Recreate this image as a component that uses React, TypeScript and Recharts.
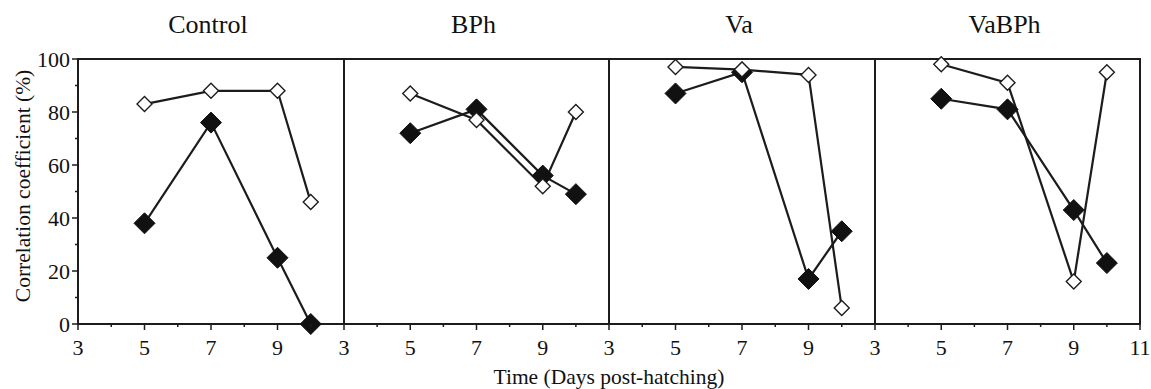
import React from 'react';
import { LineChart, Line, XAxis, YAxis, ReferenceArea } from 'recharts';

const days = [5, 7, 9, 10];
const panelTitles = ['Control', 'BPh', 'Va', 'VaBPh'];
const controlOpen = [83, 88, 88, 46];
const controlFilled = [38, 76, 25, 0];
const bphOpen = [87, 77, 52, 80];
const bphFilled = [72, 81, 56, 49];
const vaOpen = [97, 96, 94, 6];
const vaFilled = [87, 95, 17, 35];
const vabphOpen = [98, 91, 16, 95];
const vabphFilled = [85, 81, 43, 23];
const xTicksInner = [3, 4, 5, 6, 7, 8, 9, 10];
const xTicksLast = [3, 4, 5, 6, 7, 8, 9, 10, 11];
const yTicks = [0, 10, 20, 30, 40, 50, 60, 70, 80, 90, 100];
const yTitle = 'Correlation coefficient (%)';
const xTitle = 'Time (Days post-hatching)';

const FONT = '"Liberation Serif", "Times New Roman", serif';
const INK = '#1c1c1c';

const build = (open: number[], filled: number[]) =>
  days.map((d, i) => ({ day: d, open: open[i], filled: filled[i] }));

const panels = [
  build(controlOpen, controlFilled),
  build(bphOpen, bphFilled),
  build(vaOpen, vaFilled),
  build(vabphOpen, vabphFilled),
];

const XTick = (props: any) => {
  const { x, y, payload } = props;
  const v = payload.value;
  const major = v % 2 === 1;
  return (
    <g>
      <line x1={x} x2={x} y1={y} y2={y + (major ? 6 : 3)} stroke={INK} strokeWidth={1.5} />
      {major && (
        <text x={x} y={y + 31} textAnchor="middle" fontFamily={FONT} fontSize={22} fill="#111">
          {v}
        </text>
      )}
    </g>
  );
};

const YTick = (props: any) => {
  const { x, y, payload } = props;
  const v = payload.value;
  const major = v % 20 === 0;
  return (
    <g>
      <line x1={x} x2={x - (major ? 6 : 3)} y1={y} y2={y} stroke={INK} strokeWidth={1.5} />
      {major && (
        <text x={x - 8} y={y + 7.5} textAnchor="end" fontFamily={FONT} fontSize={22} fill="#111">
          {v}
        </text>
      )}
    </g>
  );
};

const OpenDot = (props: any) => {
  const { cx, cy, index } = props;
  const r = 7.5;
  return (
    <polygon
      key={'o' + index}
      points={`${cx},${cy - r} ${cx + r},${cy} ${cx},${cy + r} ${cx - r},${cy}`}
      fill="#fff"
      stroke={INK}
      strokeWidth={1.4}
    />
  );
};

const FilledDot = (props: any) => {
  const { cx, cy, index } = props;
  const r = 10.5;
  return (
    <polygon
      key={'f' + index}
      points={`${cx},${cy - r} ${cx + r},${cy} ${cx},${cy + r} ${cx - r},${cy}`}
      fill="#111"
      stroke="#111"
      strokeWidth={1}
    />
  );
};

// panel layout: left, chart width, margins
const PAD = 16;
const layout = [
  { left: 0, width: 344, mLeft: 0, mRight: 0, yAxis: true },
  { left: 344 - PAD, width: 265 + PAD, mLeft: PAD, mRight: 0, yAxis: false },
  { left: 609 - PAD, width: 266 + PAD, mLeft: PAD, mRight: 0, yAxis: false },
  { left: 875 - PAD, width: 276 + PAD, mLeft: PAD, mRight: 11, yAxis: false },
];

export default function App() {
  return (
    <div
      style={{
        position: 'absolute',
        left: 0,
        top: 0,
        width: 1151,
        height: 389,
        background: '#fff',
        overflow: 'hidden',
      }}
    >
      {panels.map((data, i) => {
        const L = layout[i];
        const last = i === panels.length - 1;
        return (
          <div key={i} style={{ position: 'absolute', left: L.left, top: 0 }}>
            <LineChart
              width={L.width}
              height={389}
              data={data}
              margin={{ top: 59, right: L.mRight, left: L.mLeft, bottom: 35 }}
            >
              <XAxis
                dataKey="day"
                type="number"
                domain={[3, 11]}
                ticks={last ? xTicksLast : xTicksInner}
                interval={0}
                axisLine={false}
                tickLine={false}
                tickSize={0}
                tickMargin={0}
                height={30}
                tick={<XTick />}
                allowDataOverflow
              />
              <YAxis
                type="number"
                domain={[0, 100]}
                ticks={yTicks}
                interval={0}
                hide={!L.yAxis}
                width={78}
                axisLine={false}
                tickLine={false}
                tickSize={0}
                tickMargin={0}
                tick={<YTick />}
              />
              <ReferenceArea
                x1={3}
                x2={11}
                y1={0}
                y2={100}
                fill="#fff"
                fillOpacity={0}
                stroke={INK}
                strokeWidth={2}
                ifOverflow="visible"
              />
              <Line
                dataKey="filled"
                stroke={INK}
                strokeWidth={2.2}
                dot={FilledDot}
                activeDot={false}
                isAnimationActive={false}
              />
              <Line
                dataKey="open"
                stroke={INK}
                strokeWidth={2.2}
                dot={OpenDot}
                activeDot={false}
                isAnimationActive={false}
              />
            </LineChart>
          </div>
        );
      })}
      <svg
        width={1151}
        height={389}
        style={{ position: 'absolute', left: 0, top: 0, pointerEvents: 'none' }}
      >
        {panelTitles.map((t, i) => {
          const edges = [78, 344, 609, 875, 1140];
          const cx = (edges[i] + edges[i + 1]) / 2;
          return (
            <text key={t} x={cx - 3} y={33} textAnchor="middle" fontFamily={FONT} fontSize={26} fill="#111">
              {t}
            </text>
          );
        })}
        <text x={609} y={384} textAnchor="middle" fontFamily={FONT} fontSize={21.5} fill="#111">
          {xTitle}
        </text>
        <text
          x={0}
          y={0}
          transform="translate(30,186) rotate(-90)"
          textAnchor="middle"
          fontFamily={FONT}
          fontSize={21.5}
          fill="#111"
        >
          {yTitle}
        </text>
      </svg>
    </div>
  );
}
